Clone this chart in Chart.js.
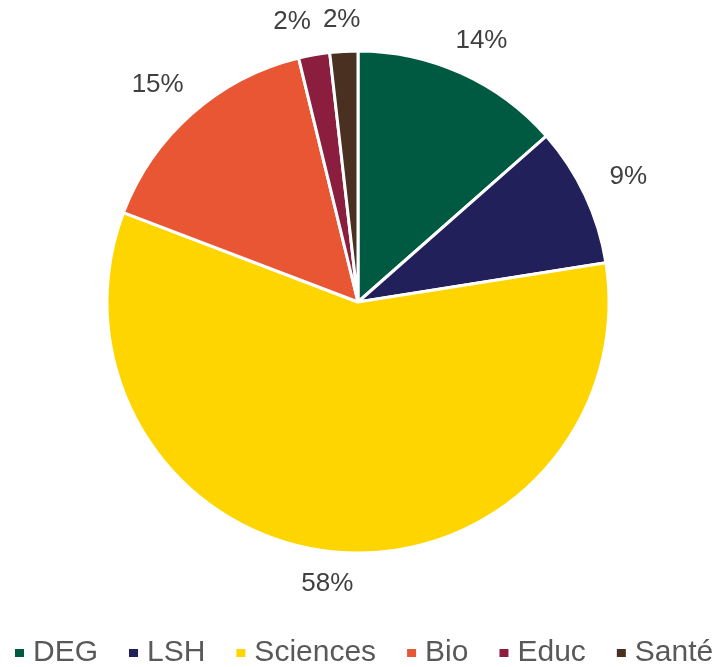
<!DOCTYPE html>
<html>
<head>
<meta charset="utf-8">
<script src="https://cdn.jsdelivr.net/npm/chart.js@4"></script>
<style>
  html, body { margin: 0; padding: 0; background: #fff; }
  #wrap { width: 720px; height: 667px; }
</style>
</head>
<body>
<div id="wrap"><canvas id="myChart"></canvas></div>
<script>
var labels = ['DEG', 'LSH', 'Sciences', 'Bio', 'Educ', 'Santé'];
var values = [13.5, 9, 58.3, 15.4, 2, 1.8];
var colors = ['#005A41', '#22205A', '#FFD500', '#E85634', '#8B1E3F', '#4A3020'];

var FONT = '"Liberation Sans", Arial, sans-serif';

// percent labels outside the slices, nudged apart when they collide
var outsideLabels = {
  id: 'outsideLabels',
  afterDatasetsDraw: function(chart) {
    var ctx = chart.ctx;
    var meta = chart.getDatasetMeta(0);
    var total = values.reduce(function(a, b) { return a + b; }, 0);
    ctx.save();
    ctx.font = '26px ' + FONT;
    ctx.fillStyle = '#404040';
    ctx.textAlign = 'center';
    ctx.textBaseline = 'middle';
    var boxes = meta.data.map(function(arc, i) {
      var p = arc.getProps(['x', 'y', 'startAngle', 'endAngle', 'outerRadius'], true);
      var mid = (p.startAngle + p.endAngle) / 2;
      var c = Math.cos(mid), s = Math.sin(mid);
      var txt = Math.round(values[i] / total * 100) + '%';
      var w = ctx.measureText(txt).width, h = 26;
      var d = p.outerRadius + 18 + 12 * Math.abs(c);
      return { txt: txt, w: w, h: h, x: p.x + c * d + c * w / 2, y: p.y + s * d + s * h / 2 };
    });
    // walk back from the last label; push earlier ones left if they overlap
    for (var i = boxes.length - 2; i >= 0; i--) {
      var a = boxes[i], b = boxes[i + 1];
      var needX = (a.w + b.w) / 2 + 12;
      if (Math.abs(a.y - b.y) < (a.h + b.h) / 2 && Math.abs(a.x - b.x) < needX) {
        a.x = b.x - needX;
      }
    }
    boxes.forEach(function(b) { ctx.fillText(b.txt, b.x, b.y); });
    ctx.restore();
  }
};

// legend row along the bottom, Excel style (small square, tight gap)
var bottomLegend = {
  id: 'bottomLegend',
  afterDraw: function(chart) {
    var ctx = chart.ctx;
    var meta = chart.getDatasetMeta(0);
    ctx.save();
    ctx.font = '30px ' + FONT;
    ctx.textBaseline = 'middle';
    ctx.textAlign = 'left';
    var x = 15, y = 653;
    labels.forEach(function(lab, i) {
      ctx.fillStyle = meta.data[i].options.backgroundColor;
      ctx.fillRect(x, y - 4, 9, 8);
      ctx.fillStyle = '#595959';
      ctx.fillText(lab, x + 18, y);
      x += 18 + ctx.measureText(lab).width + 31;
    });
    ctx.restore();
  }
};

var ctx = document.getElementById('myChart').getContext('2d');
var myChart = new Chart(ctx, {
  type: 'pie',
  data: {
    labels: labels,
    datasets: [{
      data: values,
      backgroundColor: colors,
      borderColor: '#ffffff',
      borderWidth: 3,
      radius: 251
    }]
  },
  options: {
    responsive: true,
    maintainAspectRatio: false,
    animation: false,
    layout: { padding: { left: 0, right: 4, top: 0, bottom: 63 } },
    plugins: {
      legend: { display: false },
      tooltip: { enabled: false }
    }
  },
  plugins: [outsideLabels, bottomLegend]
});
</script>
</body>
</html>
